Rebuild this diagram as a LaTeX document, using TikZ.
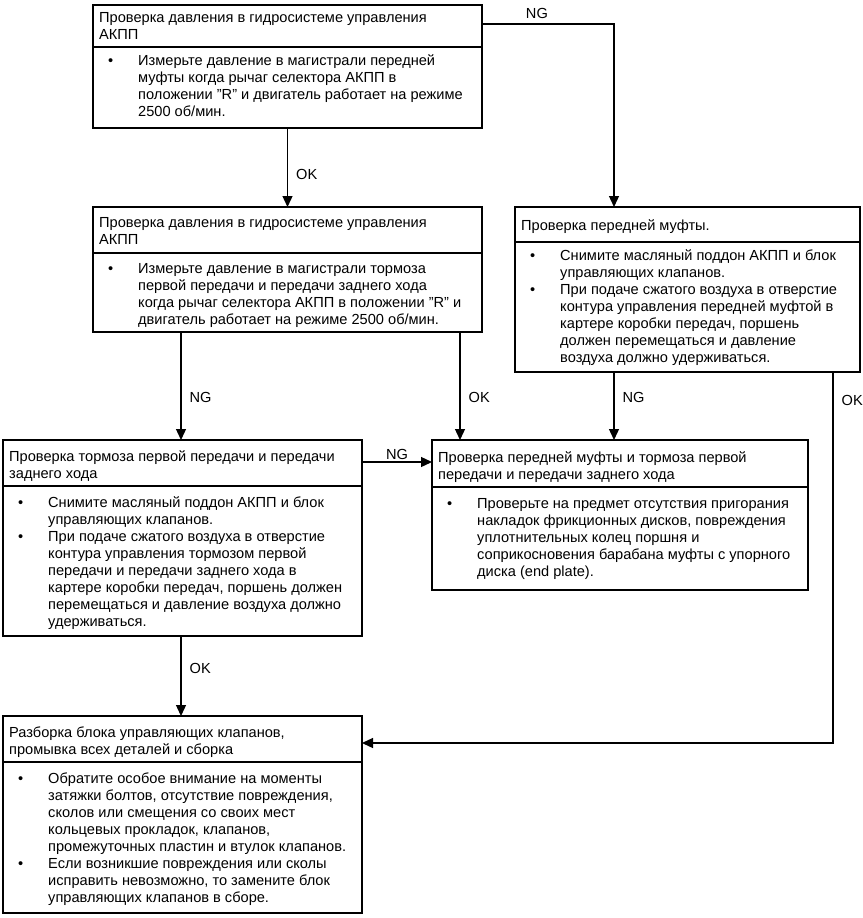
\documentclass[tikz,border=0pt]{standalone}
\usepackage{fontspec}
\setmainfont{Liberation Sans}[Ligatures=NoCommon]
\usetikzlibrary{arrows.meta}
\tikzset{
  frame/.style={draw, line width=1.6pt, inner sep=0pt, outer sep=0pt, anchor=north west},
  divider/.style={line width=1.6pt},
  txt/.style={inner sep=0pt, anchor=north west, font=\fontsize{14.6}{17}\selectfont},
  arr/.style={line width=1.3pt, -{Triangle[length=11pt,width=10pt]}},
  lbl/.style={font=\fontsize{14.6}{17}\selectfont, inner sep=0pt},
}
\newcommand\mkframe[6]{%
  \node[frame, minimum width={#4pt-#2pt}, minimum height={#5pt-#3pt}] (#1) at (#2,#3) {};
  \draw[divider] (#2,#6) -- (#4,#6);}
\newcommand\bl{\makebox[30pt][l]{\textbullet}}
\newcommand\ind{\hspace*{30pt}}
\newcommand\qq[1]{\char34\relax #1\char34\relax}
\begin{document}
\begin{tikzpicture}[x=1pt,y=-1pt]
\useasboundingbox (0,0) rectangle (862,918);
% boxes
\mkframe{b1}{93}{5}{482}{128}{47}
\mkframe{b2}{93}{207}{482}{332}{253}
\mkframe{b3}{515}{207}{860}{372}{242}
\mkframe{b4}{3}{440}{362}{636}{486}
\mkframe{b5}{432}{440}{808}{590}{487}
\mkframe{b6}{3}{716}{362}{913}{762}
% texts
\node[txt] (h1) at (99,10) {\begin{tabular}{@{}l@{}}Проверка давления в гидросистеме управления\\АКПП\end{tabular}};
\node[txt] (t1) at (108,53) {\begin{tabular}{@{}l@{}}\bl Измерьте давление в магистрали передней\\\ind муфты когда рычаг селектора АКПП в\\\ind положении \qq{R} и двигатель работает на режиме\\\ind 2500 об/мин.\end{tabular}};
\node[txt] (h2) at (99,215) {\begin{tabular}{@{}l@{}}Проверка давления в гидросистеме управления\\АКПП\end{tabular}};
\node[txt] (t2) at (108,261) {\begin{tabular}{@{}l@{}}\bl Измерьте давление в магистрали тормоза\\\ind первой передачи и передачи заднего хода\\\ind когда рычаг селектора АКПП в положении \qq{R} и\\\ind двигатель работает на режиме 2500 об/мин.\end{tabular}};
\node[txt] (h3) at (521,218) {\begin{tabular}{@{}l@{}}Проверка передней муфты.\end{tabular}};
\node[txt] (t3) at (530,248) {\begin{tabular}{@{}l@{}}\bl Снимите масляный поддон АКПП и блок\\\ind управляющих клапанов.\\\bl При подаче сжатого воздуха в отверстие\\\ind контура управления передней муфтой в\\\ind картере коробки передач, поршень\\\ind должен перемещаться и давление\\\ind воздуха должно удерживаться.\end{tabular}};
\node[txt] (h4) at (9,449) {\begin{tabular}{@{}l@{}}Проверка тормоза первой передачи и передачи\\заднего хода\end{tabular}};
\node[txt] (t4) at (18,495) {\begin{tabular}{@{}l@{}}\bl Снимите масляный поддон АКПП и блок\\\ind управляющих клапанов.\\\bl При подаче сжатого воздуха в отверстие\\\ind контура управления тормозом первой\\\ind передачи и передачи заднего хода в\\\ind картере коробки передач, поршень должен\\\ind перемещаться и давление воздуха должно\\\ind удерживаться.\end{tabular}};
\node[txt] (h5) at (438,450) {\begin{tabular}{@{}l@{}}Проверка передней муфты и тормоза первой\\передачи и передачи заднего хода\end{tabular}};
\node[txt] (t5) at (447,496) {\begin{tabular}{@{}l@{}}\bl Проверьте на предмет отсутствия пригорания\\\ind накладок фрикционных дисков, повреждения\\\ind уплотнительных колец поршня и\\\ind соприкосновения барабана муфты с упорного\\\ind диска (end plate).\end{tabular}};
\node[txt] (h6) at (9,725) {\begin{tabular}{@{}l@{}}Разборка блока управляющих клапанов,\\промывка всех деталей и сборка\end{tabular}};
\node[txt] (t6) at (18,771) {\begin{tabular}{@{}l@{}}\bl Обратите особое внимание на моменты\\\ind затяжки болтов, отсутствие повреждения,\\\ind сколов или смещения со своих мест\\\ind кольцевых прокладок, клапанов,\\\ind промежуточных пластин и втулок клапанов.\\\bl Если возникшие повреждения или сколы\\\ind исправить невозможно, то замените блок\\\ind управляющих клапанов в сборе.\end{tabular}};
% connectors
\draw[arr] (b1.south) -- (b2.north) node[lbl, pos=0.59, anchor=west, xshift=8pt] {OK};
\draw[arr] ([yshift=-19pt]b1.north east) -| ([xshift=99pt]b3.north west) node[lbl, pos=0.208, anchor=south, yshift=5pt] {NG};
\draw[arr] ([xshift=88pt]b2.south west) -- ([xshift=88pt]b2.south west |- b4.north) node[lbl, pos=0.61, anchor=west, xshift=8pt] {NG};
\draw[arr] ([xshift=-22pt]b2.south east) -- ([xshift=-22pt]b2.south east |- b5.north) node[lbl, pos=0.61, anchor=west, xshift=8pt] {OK};
\draw[arr] ([xshift=99pt]b3.south west) -- ([xshift=99pt]b3.south west |- b5.north) node[lbl, pos=0.38, anchor=west, xshift=8pt] {NG};
\draw[arr] ([xshift=-27pt]b3.south east) |- ([yshift=-27pt]b6.north east) node[lbl, pos=0.038, anchor=west, xshift=8pt] {OK};
\draw[arr] ([yshift=-22pt]b4.north east) -- ([yshift=-22pt]b4.north east -| b5.west) node[lbl, midway, anchor=south, yshift=2pt] {NG};
\draw[arr] ([xshift=178pt]b4.south west) -- ([xshift=178pt]b4.south west |- b6.north) node[lbl, pos=0.41, anchor=west, xshift=8pt] {OK};
\end{tikzpicture}
\end{document}
